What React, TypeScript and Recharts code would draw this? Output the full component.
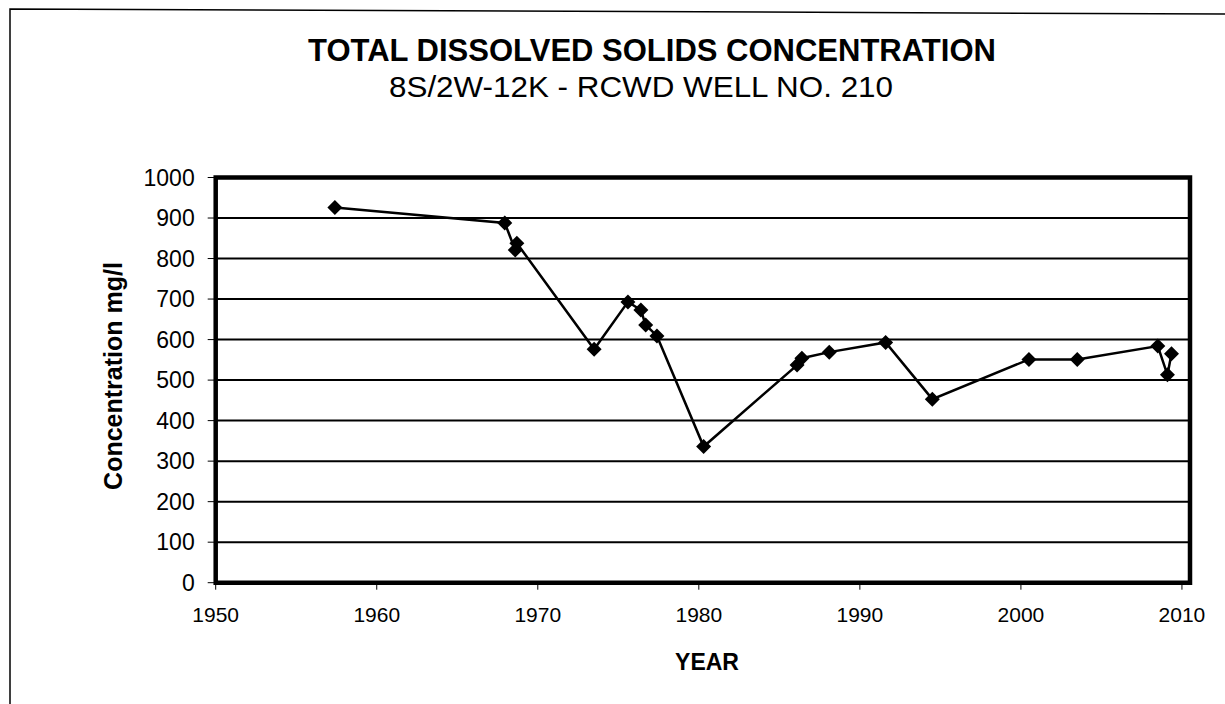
import { LineChart, Line, XAxis, YAxis, CartesianGrid, ReferenceArea } from "recharts";

const years = [
  1957.4, 1967.95, 1968.6, 1968.7, 1973.5, 1975.6, 1976.4, 1976.7, 1977.4, 1980.3,
  1986.1, 1986.4, 1988.1, 1991.6, 1994.5, 2000.5, 2003.5, 2008.5, 2009.1, 2009.35,
];
const tds = [926, 888, 821, 838, 576, 693, 673, 636, 609, 336, 537, 554, 569, 593, 453, 551, 551, 584, 513, 565];
const yearTicks = [1950, 1960, 1970, 1980, 1990, 2000, 2010];
const concTicks = [0, 100, 200, 300, 400, 500, 600, 700, 800, 900, 1000];

const data = years.map((year, i) => ({ year, tds: tds[i] }));

const FONT = "'Liberation Sans', Arial, sans-serif";

const Diamond = (props: any) => {
  const { cx, cy, index } = props;
  if (cx == null || cy == null) return null;
  const r = 7.5;
  return (
    <path
      key={`d-${index}`}
      d={`M${cx},${cy - r}L${cx + r},${cy}L${cx},${cy + r}L${cx - r},${cy}Z`}
      fill="#000"
      stroke="none"
    />
  );
};

export default function App() {
  return (
    <div style={{ position: "absolute", left: 0, top: 0, width: 1225, height: 704, background: "#fff", fontFamily: FONT }}>
      <LineChart width={1225} height={704} data={data} margin={{ top: 177.5, right: 35, left: 155.7, bottom: 81.3 }}>
        <CartesianGrid vertical={false} horizontal stroke="#000" strokeWidth={2} strokeOpacity={1} />
        <XAxis
          dataKey="year"
          type="number"
          domain={[1950, 2010.5]}
          ticks={yearTicks}
          interval={0}
          allowDataOverflow
          height={40}
          axisLine={false}
          tickLine={{ stroke: "#000", strokeWidth: 1 }}
          tickSize={7}
          tickMargin={17}
          tick={{ fill: "#000", fontSize: 21, fontFamily: FONT }}
        />
        <YAxis
          type="number"
          domain={[0, 1000]}
          ticks={concTicks}
          interval={0}
          width={60}
          axisLine={false}
          tickLine={{ stroke: "#000", strokeWidth: 1 }}
          tickSize={8}
          tickMargin={13}
          tick={{ fill: "#000", fontSize: 23, fontFamily: FONT }}
        />
        <ReferenceArea x1={1950} x2={2010.5} y1={0} y2={1000} fill="none" stroke="#000" strokeWidth={4.5} ifOverflow="visible" />
        <Line
          type="linear"
          dataKey="tds"
          stroke="#000"
          strokeWidth={2.5}
          dot={Diamond}
          activeDot={false}
          isAnimationActive={false}
        />
      </LineChart>
      <svg width={1225} height={704} style={{ position: "absolute", left: 0, top: 0, pointerEvents: "none" }}>
        <polyline points="10,704 10,9 1225,14" fill="none" stroke="#000" strokeWidth={1.5} />
        <text x={652} y={61} textAnchor="middle" fontFamily={FONT} fontWeight="bold" fontSize={31} fill="#000">
          TOTAL DISSOLVED SOLIDS CONCENTRATION
        </text>
        <text x={641} y={97} textAnchor="middle" fontFamily={FONT} fontSize={29} fill="#000" textLength={504} lengthAdjust="spacingAndGlyphs">
          8S/2W-12K - RCWD WELL NO. 210
        </text>
        <text x={122} y={376} textAnchor="middle" fontFamily={FONT} fontWeight="bold" fontSize={25} fill="#000" transform="rotate(-90 122 376)">
          Concentration mg/l
        </text>
        <text x={707} y={670} textAnchor="middle" fontFamily={FONT} fontWeight="bold" fontSize={23} fill="#000">
          YEAR
        </text>
      </svg>
    </div>
  );
}
